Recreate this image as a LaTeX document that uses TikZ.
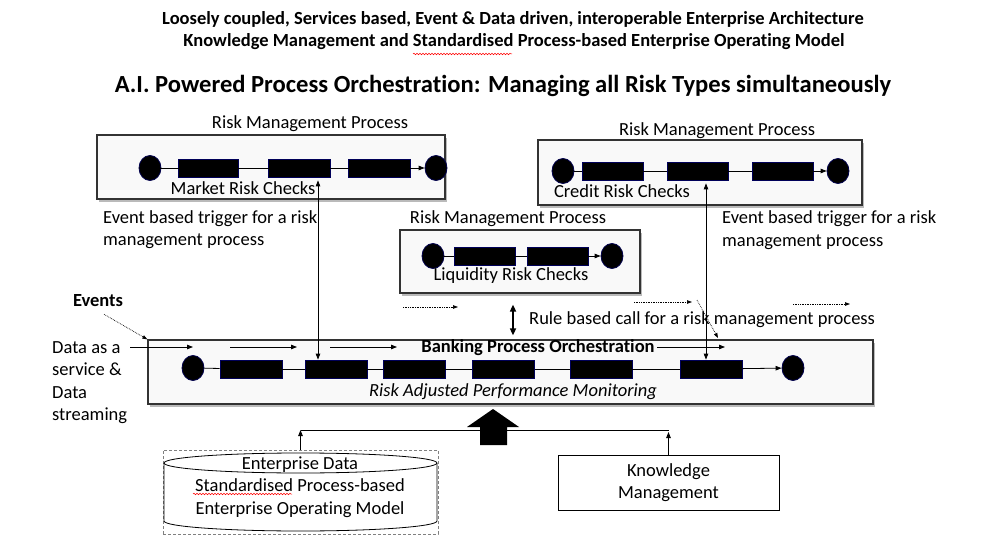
\documentclass[tikz,border=0pt]{standalone}
\usepackage{fontspec}
\setmainfont{Carlito}[Ligatures=NoCommon]
\usetikzlibrary{arrows.meta, positioning, shadows, shapes.geometric,
    decorations.pathmorphing}

\newcommand{\bodyfont}{\fontsize{18.5}{22.5}\selectfont}

\tikzset{
  procbox/.style={draw=black!80, line width=1.2pt, fill=gray!5,
    minimum width=#1, minimum height=64pt, inner sep=0pt,
    drop shadow={shadow xshift=2pt, shadow yshift=-3pt, fill=black!45, opacity=.6}},
  endpt/.style={ellipse, fill=black, draw=blue!30!black, line width=0.8pt,
    minimum width=22pt, minimum height=25pt, inner sep=0pt},
  task/.style={rectangle, fill=black, draw=blue!35!black, line width=0.8pt,
    minimum width=62pt, minimum height=18pt, inner sep=0pt},
  txt/.style={font=\bodyfont, inner sep=0pt},
  flow/.style={-{Triangle[length=6pt,width=4.5pt]}, line width=0.8pt},
  dflow/.style={{Triangle[length=6pt,width=4.5pt]}-{Triangle[length=6pt,width=4.5pt]}, line width=0.8pt},
  dotflow/.style={densely dotted, -{Triangle[length=5pt,width=3.5pt]}, line width=0.7pt},
  spell/.style={red, line width=0.5pt, decorate,
    decoration={snake, amplitude=0.8pt, segment length=3pt}}
}

\begin{document}
\begin{tikzpicture}[x=1pt, y=-1pt]
  \useasboundingbox[fill=white] (0,0) rectangle (985,545);

  % headings
  \node (head1) at (513,19) {\fontsize{18.5}{22}\selectfont\bfseries Loosely coupled, Services based, Event \& Data driven, interoperable Enterprise Architecture};
  \node (head2) at (514,42) {\fontsize{18.5}{22}\selectfont\bfseries Knowledge Management and Standardised Process-based Enterprise Operating Model};
  \node (title) at (503,86) {\fontsize{24.6}{30}\selectfont\bfseries A.I. Powered Process Orchestration: Managing all Risk Types simultaneously};

  % market risk process
  \node[procbox=348pt] (mktbox) at (271,167) {};
  \node[txt] (mkthead) at (310,124) {Risk Management Process};
  \node[endpt] (m0) at (150,168) {};
  \node[task, minimum width=60pt] (m1) at (208,168) {};
  \node[task] (m2) at (299,168) {};
  \node[task] (m3) at (379,168) {};
  \node[endpt] (m4) at (436,168) {};
  \draw[flow] (m0.center) -- (m4.west);
  \node[txt] (mktlbl) at (243,188) {Market Risk Checks};

  % credit risk process
  \node[procbox=324pt, minimum height=65pt] (crdbox) at (700,172.5) {};
  \node[txt] (crdhead) at (717,131) {Risk Management Process};
  \node[endpt] (c0) at (563,171) {};
  \node[task, minimum width=61pt] (c1) at (612.5,171) {};
  \node[task, minimum width=61pt] (c2) at (697.5,171) {};
  \node[task, minimum width=61pt] (c3) at (782.5,171) {};
  \node[endpt] (c4) at (838,171) {};
  \foreach \a/\b in {c0/c1, c1/c2, c2/c3}
    \draw[line width=0.8pt] (\a) -- (\b);
  \draw[flow] (c3) -- (c4);
  \node[txt] (crdlbl) at (622,191) {Credit Risk Checks};

  % liquidity risk process
  \node[procbox=240pt, minimum height=63pt] (liqbox) at (520,261.5) {};
  \node[txt] (liqhead) at (508,219) {Risk Management Process};
  \node[endpt] (l0) at (433,256) {};
  \node[task, minimum width=61pt] (l1) at (484.5,256) {};
  \node[task, minimum width=61pt] (l2) at (557.5,256) {};
  \node[endpt] (l3) at (612,256) {};
  \draw[line width=0.8pt] (l0) -- (l1);
  \draw[line width=0.8pt] (l1) -- (l2);
  \draw[flow] (l2) -- (l3);
  \node[txt] (liqlbl) at (511,276) {Liquidity Risk Checks};

  % triggers
  \node[txt, anchor=west, align=left] (trigl) at (103,229.5) {Event based trigger for a risk\\management process};
  \node[txt, anchor=west, align=left] (trigr) at (722,230) {Event based trigger for a risk\\management process};
  \node[txt, font=\bodyfont\bfseries] (events) at (98,301) {Events};
  \node[txt, anchor=west, align=left] (data) at (52,382.5) {Data as a\\service \&\\Data\\streaming};
  \node[txt, anchor=west] (rule) at (529,320) {Rule based call for a risk management process};

  % banking process orchestration
  \node[procbox=725pt] (bankbox) at (510.5,372) {};
  \node[txt, font=\bodyfont\bfseries] (banklbl) at (538,348) {Banking Process Orchestration};
  \node[endpt] (b0) at (193,368) {};
  \node[task] (b1) at (251,369) {};
  \node[task] (b2) at (336,369) {};
  \node[task] (b3) at (414,369) {};
  \node[task] (b4) at (503.5,369) {};
  \node[task] (b5) at (601,369) {};
  \node[task] (b6) at (711,369) {};
  \node[endpt] (b7) at (793,368) {};
  \foreach \a/\b in {b0/b1, b1/b2, b2/b3, b3/b4, b4/b5, b5/b6}
    \draw[line width=0.8pt] (\a) -- (\b);
  \draw[flow] (b6) -- (b7);
  \node[txt, font=\bodyfont\itshape] (perf) at (513,392) {Risk Adjusted Performance Monitoring};

  % calls between processes
  \draw[dflow, shorten <=3pt] ([xshift=19pt]m2.south) -- ([xshift=19pt]m2.south |- b2.north);
  \draw[dflow, shorten <=3pt] ([xshift=8.5pt]c2.south) -- ([xshift=8.5pt]c2.south |- b6.north);
  \draw[{Triangle[length=7pt,width=6pt]}-{Triangle[length=7pt,width=6pt]}, line width=1.6pt,
    shorten <=11pt, shorten >=4pt] ([xshift=-7pt]liqbox.south) -- ([xshift=-7pt]liqbox.south |- bankbox.north);

  % event and data streams
  \draw[dotflow] ([xshift=6pt,yshift=-7pt]events.south) -- (bankbox.north west);
  \coordinate (s0) at (130,347); \coordinate (s1) at (193,347);
  \coordinate (s2) at (230,347); \coordinate (s3) at (297,347);
  \coordinate (s4) at (330,347); \coordinate (s5) at (397,347);
  \coordinate (s6) at (657,347); \coordinate (s7) at (725,347);
  \foreach \a/\b in {s0/s1, s2/s3, s4/s5, s6/s7}
    \draw[flow] (\a) -- (\b);
  \coordinate (e0) at (403,307); \coordinate (e1) at (458,307);
  \coordinate (e2) at (634,302); \coordinate (e3) at (692,302);
  \coordinate (e4) at (793,304); \coordinate (e5) at (850,304);
  \coordinate (e6) at (697,300); \coordinate (e7) at (718,338);
  \foreach \a/\b in {e0/e1, e2/e3, e4/e5, e6/e7}
    \draw[dotflow] (\a) -- (\b);

  % enterprise data and knowledge
  \node[draw=gray, densely dashed, line width=0.6pt, minimum width=275pt, minimum height=84pt, inner sep=0pt] (entdata) at (300.5,492) {};
  \draw[line width=0.8pt, fill=white] (164,463) -- (164,521) arc[start angle=180, end angle=0, x radius=136.5, y radius=10] -- (437,463);
  \draw[line width=0.8pt] (300.5,463) ellipse[x radius=136.5, y radius=10];
  \node[txt, align=center] (enttxt) at (300,487) {Enterprise Data\\Standardised Process-based\\Enterprise Operating Model};
  \node[txt, draw, line width=0.8pt, minimum width=221pt, minimum height=55pt, align=center] (knw) at (668.5,482.5) {Knowledge\\Management};

  \coordinate (bus) at (0,430);
  \draw[line width=0.8pt] (entdata.north |- bus) -- (knw.north |- bus);
  \draw[flow] (entdata.north) -- (entdata.north |- bus);
  \draw[flow] (knw.north) -- ([yshift=-2pt]knw.north |- bus);
  \fill (493,409) -- (519,427) -- (507,427) -- (507,445) -- (480,445) -- (480,427) -- (467,427) -- cycle;

  % spell marks
  \draw[spell] (413,54) -- (512,54);
  \draw[spell] (193,494) -- (292,494);
\end{tikzpicture}
\end{document}
